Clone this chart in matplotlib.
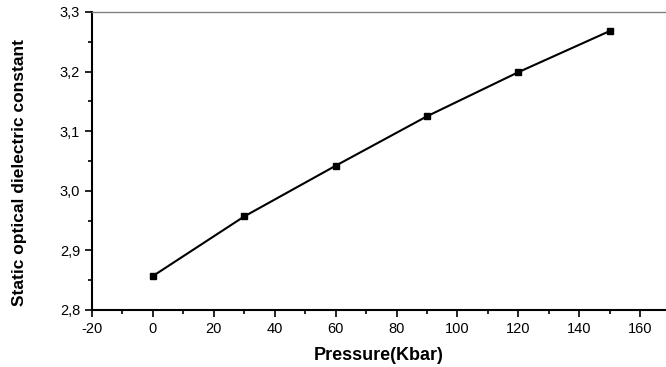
import matplotlib
matplotlib.use("Agg")
import matplotlib.pyplot as plt
from matplotlib.ticker import MultipleLocator, FuncFormatter

pressure = [0, 30, 60, 90, 120, 150]
dielectric = [2.857, 2.957, 3.042, 3.125, 3.199, 3.268]

plt.rcParams['font.family'] = ['Liberation Sans', 'DejaVu Sans']
plt.rcParams['axes.unicode_minus'] = False

fig = plt.figure(figsize=(6.66, 3.67), dpi=100)
ax = fig.add_axes([92/666, 57/367, 1 - 92/666, 298/367])

ax.plot(pressure, dielectric, color='black', lw=1.5, marker='s', ms=5)

ax.set_xlim(-20, 168.5)
ax.set_ylim(2.8, 3.3)
ax.xaxis.set_major_locator(MultipleLocator(20))
ax.xaxis.set_minor_locator(MultipleLocator(10))
ax.yaxis.set_major_locator(MultipleLocator(0.1))
ax.yaxis.set_minor_locator(MultipleLocator(0.05))
ax.yaxis.set_major_formatter(FuncFormatter(lambda v, p: ('%.1f' % v).replace('.', ',')))

ax.spines['right'].set_visible(False)
ax.spines['top'].set_color('gray')
ax.spines['top'].set_linewidth(1)
ax.spines['left'].set_linewidth(1.5)
ax.spines['bottom'].set_linewidth(1.5)
ax.tick_params(which='major', direction='out', length=5, width=1.2, labelsize=10.5)
ax.tick_params(which='minor', direction='out', length=3, width=1.2)

ax.set_xlabel('Pressure(Kbar)', fontsize=13, fontweight='bold', labelpad=8)
ax.set_ylabel('Static optical dielectric constant', fontsize=12.5, fontweight='bold')
ax.yaxis.set_label_coords(-0.113, 0.46)

fig.savefig('out.png', dpi=100)
